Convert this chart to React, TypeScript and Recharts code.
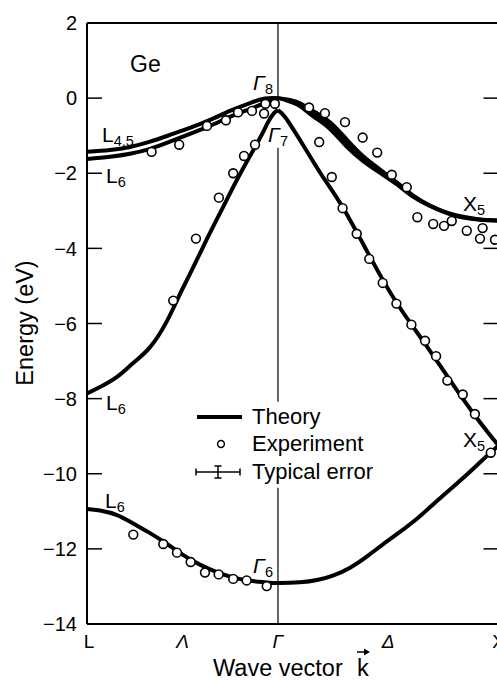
import React from 'react';
import { ComposedChart, Line, Area, Scatter, XAxis, YAxis, ReferenceLine } from 'recharts';

// k in units of 2π/a: L at -√3/2, Γ at 0, X at 1. Energies in eV.
const K_TICKS = [-0.866, -0.433, 0, 0.5, 1];
const K_TICK_NAMES = ['L', 'Λ', 'Γ', 'Δ', 'X'];
const K_TICK_ITALIC = [false, true, true, true, false];
const E_TICKS = [2, 0, -2, -4, -6, -8, -10, -12, -14];

// theory bands
const heavyHole = [
  { k: -0.866, E: -1.43 }, { k: -0.762, E: -1.38 }, { k: -0.671, E: -1.3 }, { k: -0.58, E: -1.16 },
  { k: -0.49, E: -0.98 }, { k: -0.399, E: -0.79 }, { k: -0.308, E: -0.58 }, { k: -0.218, E: -0.34 },
  { k: -0.127, E: -0.13 }, { k: -0.059, E: -0.01 }, { k: 0, E: 0 },
  { k: 0.054, E: -0.05 }, { k: 0.1, E: -0.14 }, { k: 0.159, E: -0.34 }, { k: 0.236, E: -0.64 },
  { k: 0.313, E: -1.11 }, { k: 0.385, E: -1.54 }, { k: 0.463, E: -1.9 }, { k: 0.54, E: -2.25 },
  { k: 0.612, E: -2.59 }, { k: 0.689, E: -2.86 }, { k: 0.766, E: -3.05 }, { k: 0.839, E: -3.16 },
  { k: 0.916, E: -3.23 }, { k: 1, E: -3.26 },
];

const lightHole = [
  { k: -0.866, E: -1.62 }, { k: -0.762, E: -1.56 }, { k: -0.671, E: -1.48 }, { k: -0.58, E: -1.35 },
  { k: -0.49, E: -1.16 }, { k: -0.399, E: -0.95 }, { k: -0.308, E: -0.74 }, { k: -0.218, E: -0.5 },
  { k: -0.127, E: -0.29 }, { k: -0.059, E: -0.13 }, { k: -0.027, E: -0.05 }, { k: 0, E: 0 },
  { k: 0.054, E: -0.09 }, { k: 0.1, E: -0.21 }, { k: 0.159, E: -0.48 }, { k: 0.236, E: -0.82 },
  { k: 0.313, E: -1.3 }, { k: 0.385, E: -1.67 }, { k: 0.463, E: -1.99 }, { k: 0.54, E: -2.3 },
  { k: 0.612, E: -2.62 }, { k: 0.689, E: -2.87 }, { k: 0.766, E: -3.06 }, { k: 0.839, E: -3.18 },
  { k: 0.916, E: -3.24 }, { k: 1, E: -3.26 },
];

const splitOff = [
  { k: -0.866, E: -7.86 }, { k: -0.807, E: -7.69 }, { k: -0.73, E: -7.42 }, { k: -0.658, E: -7.06 },
  { k: -0.58, E: -6.63 }, { k: -0.503, E: -5.93 }, { k: -0.444, E: -5.21 }, { k: -0.399, E: -4.68 },
  { k: -0.322, E: -3.75 }, { k: -0.249, E: -2.9 }, { k: -0.172, E: -2.02 }, { k: -0.086, E: -1.11 },
  { k: -0.045, E: -0.64 }, { k: -0.018, E: -0.4 }, { k: 0, E: -0.32 },
  { k: 0.032, E: -0.5 }, { k: 0.068, E: -0.82 }, { k: 0.113, E: -1.24 }, { k: 0.204, E: -2.1 },
  { k: 0.295, E: -2.92 }, { k: 0.417, E: -4.22 }, { k: 0.535, E: -5.42 }, { k: 0.667, E: -6.54 },
  { k: 0.766, E: -7.39 }, { k: 0.893, E: -8.45 }, { k: 1, E: -9.25 },
];

const lowestBand = [
  { k: -0.866, E: -10.94 }, { k: -0.807, E: -10.98 }, { k: -0.73, E: -11.1 }, { k: -0.658, E: -11.32 },
  { k: -0.58, E: -11.58 }, { k: -0.503, E: -11.87 }, { k: -0.431, E: -12.16 }, { k: -0.354, E: -12.42 },
  { k: -0.277, E: -12.62 }, { k: -0.204, E: -12.76 }, { k: -0.127, E: -12.85 }, { k: -0.059, E: -12.89 },
  { k: 0, E: -12.91 }, { k: 0.1, E: -12.89 }, { k: 0.177, E: -12.83 }, { k: 0.249, E: -12.71 },
  { k: 0.327, E: -12.5 }, { k: 0.404, E: -12.2 }, { k: 0.476, E: -11.88 }, { k: 0.553, E: -11.55 },
  { k: 0.63, E: -11.2 }, { k: 0.703, E: -10.82 }, { k: 0.78, E: -10.42 }, { k: 0.857, E: -10.02 },
  { k: 0.93, E: -9.62 }, { k: 1, E: -9.25 },
];

// photoemission points
const experiment = [
  // top bands along Λ
  { k: -0.573, E: -1.43 }, { k: -0.448, E: -1.24 }, { k: -0.322, E: -0.74 }, { k: -0.236, E: -0.59 },
  { k: -0.181, E: -0.38 }, { k: -0.118, E: -0.34 }, { k: -0.063, E: -0.41 }, { k: -0.057, E: -0.15 },
  { k: -0.014, E: -0.15 },
  // split-off along Λ
  { k: -0.104, E: -1.24 }, { k: -0.154, E: -1.54 }, { k: -0.203, E: -2.0 }, { k: -0.268, E: -2.65 },
  { k: -0.372, E: -3.74 }, { k: -0.475, E: -5.39 },
  // top bands along Δ
  { k: 0.141, E: -0.25 }, { k: 0.213, E: -0.4 }, { k: 0.304, E: -0.64 }, { k: 0.384, E: -1.05 },
  { k: 0.45, E: -1.45 }, { k: 0.516, E: -2.04 }, { k: 0.584, E: -2.37 }, { k: 0.632, E: -3.17 },
  { k: 0.704, E: -3.35 }, { k: 0.753, E: -3.4 }, { k: 0.788, E: -3.27 }, { k: 0.856, E: -3.53 },
  { k: 0.928, E: -3.46 }, { k: 0.916, E: -3.74 }, { k: 0.984, E: -3.77 },
  // split-off along Δ
  { k: 0.187, E: -1.17 }, { k: 0.244, E: -2.1 }, { k: 0.293, E: -2.93 }, { k: 0.357, E: -3.61 },
  { k: 0.414, E: -4.28 }, { k: 0.475, E: -4.92 }, { k: 0.537, E: -5.47 }, { k: 0.605, E: -6.03 },
  { k: 0.667, E: -6.46 }, { k: 0.717, E: -6.87 }, { k: 0.768, E: -7.52 }, { k: 0.838, E: -7.89 },
  { k: 0.893, E: -8.41 }, { k: 0.965, E: -9.44 },
  // lowest band along Λ
  { k: -0.656, E: -11.62 }, { k: -0.52, E: -11.87 }, { k: -0.458, E: -12.1 }, { k: -0.396, E: -12.35 },
  { k: -0.331, E: -12.63 }, { k: -0.269, E: -12.68 }, { k: -0.203, E: -12.8 }, { k: -0.142, E: -12.84 },
  { k: -0.051, E: -12.99 },
];

// along Δ the two top bands nearly touch; fill the space between them
const holeBandDelta = heavyHole
  .filter((p) => p.k >= 0)
  .map((p) => ({ k: p.k, range: [lightHole.find((q) => q.k === p.k)!.E, p.E] }));

// the split-off band has a cusp at Γ7, so each side gets its own spline
const splitOffLambda = splitOff.filter((p) => p.k <= 0);
const splitOffDelta = splitOff.filter((p) => p.k >= 0);

const FONT = '"Liberation Sans", Arial, Helvetica, sans-serif';
const CHART_W = 520;
const CHART_H = 681;
const MARGIN = { top: 23, right: 21.5, bottom: 27, left: 27 };
const PLOT_W = CHART_W - MARGIN.left - 60 - MARGIN.right;

const fmtE = (v: number) => (v < 0 ? '\u2212' + Math.abs(v) : String(v));

const YTick = (props: any) => {
  const { x, y, payload } = props;
  const inner = payload.value !== 2 && payload.value !== -14;
  return (
    <g>
      {inner && <line x1={x} x2={x + 15} y1={y} y2={y} stroke="#000" strokeWidth={1.5} />}
      {inner && <line x1={x + PLOT_W - 15} x2={x + PLOT_W} y1={y} y2={y} stroke="#000" strokeWidth={1.5} />}
      <text x={x - 10} y={y} dy="0.36em" textAnchor="end" fontFamily={FONT} fontSize={20} fill="#000">
        {fmtE(payload.value)}
      </text>
    </g>
  );
};

const XTick = (props: any) => {
  const { x, y, payload } = props;
  const i = K_TICKS.indexOf(payload.value);
  return (
    <text x={i === 0 ? x + 2 : x} y={y + 24} textAnchor="middle" fontFamily={FONT} fontSize={19}
      fontStyle={K_TICK_ITALIC[i] ? 'italic' : 'normal'} fill="#000">
      {K_TICK_NAMES[i]}
    </text>
  );
};

// band symbol with a subscript, e.g. Γ8
const Sym = ({ x, y, main, sub, italic }: { x: number; y: number; main: string; sub: string; italic?: boolean }) => (
  <text x={x} y={y} fontFamily={FONT} fontSize={21} fill="#000" fontStyle={italic ? 'italic' : 'normal'}>
    {main}
    <tspan dy={4} fontSize={14.5} fontStyle="normal">{sub}</tspan>
  </text>
);

const Circle = (props: any) => (
  <circle cx={props.cx} cy={props.cy} r={4.4} fill="#fff" stroke="#000" strokeWidth={1.6} />
);

const bandProps = {
  type: 'natural' as const,
  dataKey: 'E',
  stroke: '#000',
  strokeWidth: 4,
  dot: false,
  activeDot: false,
  isAnimationActive: false,
};

export default function App() {
  return (
    <div style={{ position: 'absolute', left: 0, top: 0, width: 497, height: 681, overflow: 'hidden', background: '#fff' }}>
      <ComposedChart width={CHART_W} height={CHART_H} margin={MARGIN}>
        <XAxis type="number" dataKey="k" domain={[-0.866, 1]} ticks={K_TICKS} interval={0} allowDataOverflow
          tickLine={false} tickSize={0} tickMargin={0} axisLine={{ stroke: '#000', strokeWidth: 2 }} tick={XTick} height={30} />
        <YAxis type="number" domain={[-14, 2]} ticks={E_TICKS} interval={0} allowDataOverflow
          tickLine={false} tickSize={0} tickMargin={0} axisLine={{ stroke: '#000', strokeWidth: 2 }} tick={YTick} width={60} />

        <ReferenceLine y={2} stroke="#000" strokeWidth={2} />
        <ReferenceLine x={1} stroke="#000" strokeWidth={2} />
        {/* Γ line, broken around the Γ7 label and the key */}
        <ReferenceLine segment={[{ x: 0, y: 2 }, { x: 0, y: 0 }]} stroke="#000" strokeWidth={1.2} />
        <ReferenceLine segment={[{ x: 0, y: -1.32 }, { x: 0, y: -8.08 }]} stroke="#000" strokeWidth={1.2} />
        <ReferenceLine segment={[{ x: 0, y: -10.37 }, { x: 0, y: -14 }]} stroke="#000" strokeWidth={1.2} />

        <Area data={holeBandDelta} type="natural" dataKey="range" stroke="none" fill="#000" fillOpacity={1}
          dot={false} activeDot={false} isAnimationActive={false} />
        <Line data={lightHole} {...bandProps} />
        <Line data={heavyHole} {...bandProps} />
        <Line data={splitOffLambda} {...bandProps} />
        <Line data={splitOffDelta} {...bandProps} />
        <Line data={lowestBand} {...bandProps} />
        <Scatter data={experiment} dataKey="E" shape={Circle} isAnimationActive={false} />

        <text x={130} y={72} fontFamily={FONT} fontSize={23} fill="#000">Ge</text>
        <Sym x={102} y={142} main="L" sub="4,5" />
        <Sym x={106} y={183} main="L" sub="6" />
        <Sym x={106} y={410} main="L" sub="6" />
        <Sym x={105} y={508} main="L" sub="6" />
        <Sym x={253} y={90} main="Γ" sub="8" italic />
        <Sym x={268} y={142} main="Γ" sub="7" italic />
        <Sym x={253} y={573} main="Γ" sub="6" italic />
        <Sym x={463} y={211} main="X" sub="5" />
        <Sym x={463} y={447} main="X" sub="5" />

        {/* key */}
        <g fontFamily={FONT} fontSize={22} fill="#000">
          <line x1={197} x2={242} y1={417} y2={417} stroke="#000" strokeWidth={4} />
          <text x={252} y={424}>Theory</text>
          <circle cx={221} cy={444} r={3.4} fill="#fff" stroke="#000" strokeWidth={1.5} />
          <text x={252} y={451}>Experiment</text>
          <line x1={196} x2={240} y1={472} y2={472} stroke="#000" strokeWidth={1.5} />
          <line x1={196} x2={196} y1={468.5} y2={475.5} stroke="#000" strokeWidth={1.5} />
          <line x1={240} x2={240} y1={468.5} y2={475.5} stroke="#000" strokeWidth={1.5} />
          <line x1={218} x2={218} y1={466} y2={478} stroke="#000" strokeWidth={1.5} />
          <line x1={214.5} x2={221.5} y1={466} y2={466} stroke="#000" strokeWidth={1.5} />
          <line x1={214.5} x2={221.5} y1={478} y2={478} stroke="#000" strokeWidth={1.5} />
          <text x={252} y={479}>Typical error</text>
        </g>

        {/* axis titles */}
        <text x={33} y={323} transform="rotate(-90 33 323)" textAnchor="middle" fontFamily={FONT} fontSize={23.5} fill="#000">
          Energy (eV)
        </text>
        <text x={213} y={676} fontFamily={FONT} fontSize={23.5} fill="#000">Wave vector</text>
        <text x={357} y={676} fontFamily={FONT} fontSize={23.5} fill="#000">k</text>
        <line x1={357} x2={367} y1={652} y2={652} stroke="#000" strokeWidth={1.5} />
        <path d="M364,648.5 L370,652 L364,655.5 Z" fill="#000" />
      </ComposedChart>
    </div>
  );
}
